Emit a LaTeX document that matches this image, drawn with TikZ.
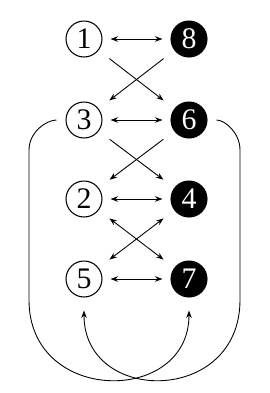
\documentclass[tikz,border=0pt]{standalone}
\usepackage{fontspec}
\setmainfont{Liberation Serif}
\usetikzlibrary{arrows.meta}

\begin{document}
\begin{tikzpicture}[
  x=0.02cm, y=-0.02cm,
  wnode/.style={circle, draw, line width=0.6pt, minimum size=0.72cm, inner sep=0pt, fill=white, font=\fontsize{17}{17}\selectfont},
  bnode/.style={circle, draw, line width=0.6pt, minimum size=0.72cm, inner sep=0pt, fill=black, text=white, font=\fontsize{17}{17}\selectfont},
  link/.style={line width=0.5pt, shorten <=0.16cm, shorten >=0.16cm},
  cross/.style={line width=0.5pt, shorten <=0.27cm, shorten >=0.27cm},
  >={Stealth[length=1.5mm, width=1.1mm]}
]
\useasboundingbox (0,0) rectangle (270,393);
% Two columns, four rows
\node[wnode] (v1) at (84,39)  {1};
\node[bnode] (v8) at (189,39) {8};
\node[wnode] (v3) at (84,120) {3};
\node[bnode] (v6) at (189,120) {6};
\node[wnode] (v2) at (84,199) {2};
\node[bnode] (v4) at (189,199) {4};
\node[wnode] (v5) at (84,279) {5};
\node[bnode] (v7) at (189,279) {7};

% Horizontal links
\draw[<->, link] (v1) -- (v8);
\draw[<->, link] (v3) -- (v6);
\draw[<->, link] (v2) -- (v4);
\draw[<->, link] (v5) -- (v7);

% Crossings between rows
\draw[->, cross] (v1) -- (v6);
\draw[->, cross] (v8) -- (v3);
\draw[->, cross] (v3) -- (v4);
\draw[->, cross] (v6) -- (v2);
\draw[<->, cross] (v2) -- (v7);
\draw[<->, cross] (v4) -- (v5);

% Outer loops
\draw[->, line width=0.5pt, shorten <=0.18cm, shorten >=0.26cm]
  (v3.west) to[out=180, in=90] (29,150) -- (29,300)
  .. controls (29,405) and (189,405) .. (v7.south);
\draw[->, line width=0.5pt, shorten <=0.18cm, shorten >=0.26cm]
  (v6.east) to[out=0, in=90] (240,150) -- (240,300)
  .. controls (240,405) and (84,405) .. (v5.south);
\end{tikzpicture}
\end{document}
